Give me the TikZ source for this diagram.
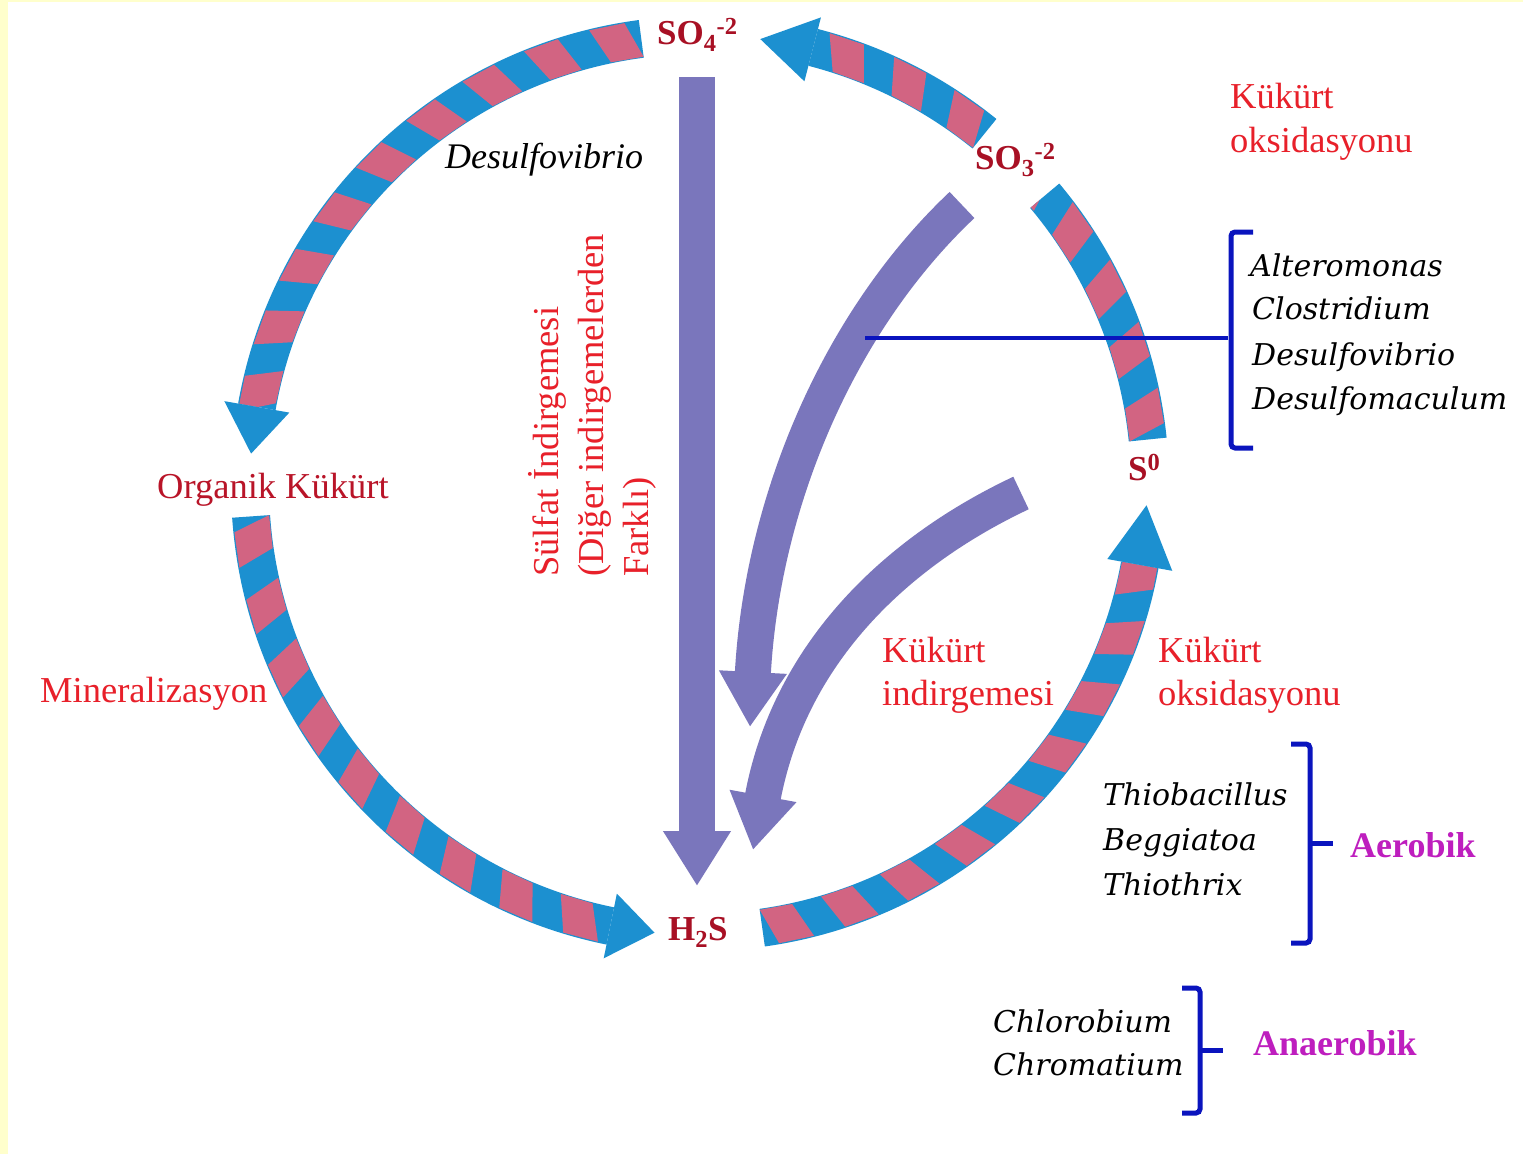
\documentclass[tikz,border=0pt]{standalone}
\usepackage{fontspec}
\setmainfont{Liberation Serif}
\newfontfamily\speciesfont{DejaVu Serif}
\usetikzlibrary{arrows.meta}

\definecolor{paper}{RGB}{255,255,204}
\definecolor{bandblue}{RGB}{28,144,208}
\definecolor{bandpink}{RGB}{210,100,130}
\definecolor{purp}{RGB}{122,118,188}
\definecolor{brblue}{RGB}{10,20,190}
\definecolor{redlbl}{RGB}{232,32,42}
\definecolor{darkred}{RGB}{168,16,36}
\definecolor{orgred}{RGB}{185,20,40}
\definecolor{grpmag}{RGB}{190,30,190}

% striped annular band from angle #1 to #2 (ccw) at radius #3
\newcommand\stripeband[3]{%
  \pgfmathsetmacro\ro{#3+19}\pgfmathsetmacro\ri{#3-19}%
  \pgfmathsetmacro\pro{#3+18}\pgfmathsetmacro\pri{#3-18}%
  \fill[bandblue] ([shift={(cen)}]#1:\ro) arc[start angle=#1,end angle=#2,radius=\ro]
     -- ([shift={(cen)}]#2:\ri) arc[start angle=#2,end angle=#1,radius=\ri] -- cycle;
  \begin{scope}
    \clip ([shift={(cen)}]#1:\ro) arc[start angle=#1,end angle=#2,radius=\ro]
     -- ([shift={(cen)}]#2:\ri) arc[start angle=#2,end angle=#1,radius=\ri] -- cycle;
    \foreach \i in {-1,...,12}{%
      \pgfmathsetmacro\ta{#1+8.4*\i}\pgfmathsetmacro\tb{\ta+4.4}%
      \pgfmathsetmacro\tc{\ta+1.8}\pgfmathsetmacro\td{\tb+1.8}%
      \fill[bandpink] ([shift={(cen)}]\ta:\pri) -- ([shift={(cen)}]\tb:\pri)
        -- ([shift={(cen)}]\td:\pro) -- ([shift={(cen)}]\tc:\pro) -- cycle;
    }
  \end{scope}
}
% arrow head of a band: base angle #1, tip angle #2, radius #3
\newcommand\bandhead[3]{%
  \pgfmathsetmacro\hro{#3+33}\pgfmathsetmacro\hri{#3-33}%
  \fill[bandblue] ([shift={(cen)}]#1:\hro) -- ([shift={(cen)}]#2:#3)
     -- ([shift={(cen)}]#1:\hri) -- cycle;
}

\tikzset{
  purparrow/.style={draw=purp, line width=36pt, -{Triangle[length=55pt,width=64pt]}},
  link/.style={draw=brblue, line width=3.5pt},
  brace/.style={draw=brblue, line width=5pt, rounded corners=4pt},
  lbl/.style={text=redlbl, font=\fontsize{36.5}{44}\selectfont, inner sep=0pt, anchor=base west},
  chem/.style={text=darkred, font=\bfseries\fontsize{35}{42}\selectfont, inner sep=0pt, anchor=base west},
  genus/.style={font=\speciesfont\itshape\fontsize{30}{38}\selectfont, inner sep=0pt, anchor=base west},
  grp/.style={text=grpmag, font=\bfseries\fontsize{36}{44}\selectfont, inner sep=0pt, anchor=base west}
}

\begin{document}
\begin{tikzpicture}[x=1pt,y=1pt]
\useasboundingbox (0,0) rectangle (1523,-1154);
\fill[white] (0,0) rectangle (1523,-1154);
\fill[paper] (0,0) rectangle (8,-1154);
\fill[paper] (0,0) rectangle (1523,-2);

\coordinate (cen) at (700,-485);

% the cycle bands
\stripeband{97.5}{170}{450}\bandhead{170}{176}{450}
\stripeband{184}{258.5}{450}\bandhead{258.5}{264.2}{450}
\stripeband{278}{349.7}{447}\bandhead{349.7}{357.4}{447}
\stripeband{5.8}{40}{450}
\stripeband{51}{75.5}{452}\bandhead{75.5}{82.3}{450}

% reduction arrows
\coordinate (va) at (697,-77);  \coordinate (vb) at (697,-886);
\draw[purparrow] (va) -- (vb);
\coordinate (ca) at (962,-205); \coordinate (cb) at (750,-727);
\draw[purparrow] (ca) .. controls (840,-320) and (762,-500) .. (cb);
\coordinate (da) at (1021,-493); \coordinate (db) at (753,-850);
\draw[purparrow] (da) .. controls (900,-550) and (790,-650) .. (db);

% compounds
\node[chem] (so4) at (657,-44) {SO\textsubscript{4}\textsuperscript{-2}};
\node[chem] (so3) at (975,-169) {SO\textsubscript{3}\textsuperscript{-2}};
\node[chem] (s0) at (1128,-480) {S\textsuperscript{0}};
\node[chem] (h2s) at (668,-940) {H\textsubscript{2}S};

% process labels
\node[lbl, text=orgred] (org) at (157,-498) {Organik Kükürt};
\node[lbl] (minr) at (40,-702) {Mineralizasyon};
\node[lbl] (oksA1) at (1230,-108) {Kükürt};
\node[lbl] (oksA2) at (1230,-152) {oksidasyonu};
\node[lbl] (ind1) at (882,-662) {Kükürt};
\node[lbl] (ind2) at (882,-705) {indirgemesi};
\node[lbl] (oksB1) at (1158,-662) {Kükürt};
\node[lbl] (oksB2) at (1158,-705) {oksidasyonu};
\node[lbl, rotate=90] (sul1) at (558,-577) {Sülfat İndirgemesi};
\node[lbl, rotate=90] (sul2) at (603,-577) {(Diğer indirgemelerden};
\node[lbl, rotate=90] (sul3) at (648,-577) {Farklı)};
\node[lbl, text=black, font=\itshape\fontsize{36}{44}\selectfont] (dsv) at (445,-168) {Desulfovibrio};

% sulfur reducers
\node[genus] (g1) at (1250,-276) {Alteromonas};
\node[genus] (g2) at (1252,-319) {Clostridium};
\node[genus] (g3) at (1252,-365) {Desulfovibrio};
\node[genus] (g4) at (1252,-409) {Desulfomaculum};
\coordinate (lnk) at (865,-338);
\coordinate (br1) at (1228,-338);
\draw[brace] (1253,-232) -- (1231,-232) -- (1231,-338) -- (1231,-448) -- (1253,-448);
\draw[link] (lnk) -- (br1);

% aerobic oxidizers
\node[genus] (g5) at (1103,-805) {Thiobacillus};
\node[genus] (g6) at (1103,-850) {Beggiatoa};
\node[genus] (g7) at (1103,-895) {Thiothrix};
\draw[brace] (1291,-744) -- (1310,-744) -- (1310,-943) -- (1291,-943);
\coordinate (br2) at (1310,-843);
\node[grp] (aer) at (1350,-857) {Aerobik};
\draw[brace, rounded corners=0pt] (br2) -- (1333,-843);

% anaerobic oxidizers
\node[genus] (g8) at (993,-1032) {Chlorobium};
\node[genus] (g9) at (993,-1075) {Chromatium};
\draw[brace] (1182,-988) -- (1200,-988) -- (1200,-1113) -- (1182,-1113);
\coordinate (br3) at (1200,-1050);
\node[grp] (anaer) at (1253,-1055) {Anaerobik};
\draw[brace, rounded corners=0pt] (br3) -- (1223,-1050);
\end{tikzpicture}
\end{document}
